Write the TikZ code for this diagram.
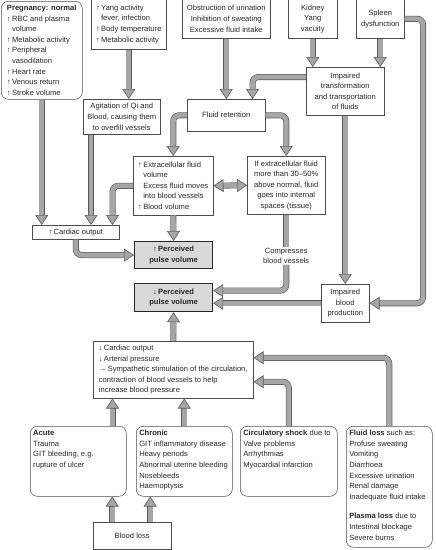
\documentclass[tikz,border=0pt]{standalone}
\usepackage{fontspec}
\setmainfont{Liberation Sans}
\usetikzlibrary{arrows.meta,positioning,calc}

\newcommand{\incr}{↑\,}
\newcommand{\decr}{↓\,}
\newcommand{\toward}{→\,}

\begin{document}
\begin{tikzpicture}[x=1pt,y=-1pt,inner xsep=4pt,inner ysep=3pt,
    font=\fontsize{7.6}{10.6}\selectfont,
    box/.style={draw=black!70,line width=.5pt,text=black!85,anchor=north west},
    rbox/.style={box,rounded corners=7pt},
    pulse/.style={box,draw=black!85,line width=1.2pt,fill=black!15,font=\fontsize{7.6}{10.6}\selectfont\bfseries},
    bigtip/.tip={Triangle[length=10pt,width=13pt,line width'=.6pt,fill=black!35]},
    fat/.style={draw=black!65,line width=.6pt,double=black!35,double distance=4.8pt,rounded corners=6pt},
    fatarrow/.style={fat,-bigtip}]

  \useasboundingbox (0,0) rectangle (436,550);

  % Causes at the top
  \node[rbox,minimum width=81pt,minimum height=98pt,align=left] (preg) at (1,1)
    {\textbf{Pregnancy: normal}\\\incr RBC and plasma\\\phantom{\incr}volume\\\incr Metabolic activity\\\incr Peripheral\\\phantom{\incr}vasodilation\\\incr Heart rate\\\incr Venous return\\\incr Stroke volume};
  \node[box,minimum width=75pt,minimum height=50pt,align=left] (yang) at (91,-1)
    {\incr Yang activity\\\phantom{\incr}fever, infection\\\incr Body temperature\\\incr Metabolic activity};
  \node[box,minimum width=88pt,minimum height=39pt,align=center] (obst) at (182,-1)
    {Obstruction of urination\\Inhibition of sweating\\Excessive fluid intake};
  \node[box,minimum width=49pt,minimum height=39pt,align=center] (kidney) at (288,-1)
    {Kidney\\Yang\\vacuity};
  \node[box,minimum width=48pt,minimum height=39pt,align=center] (spleen) at (356,-1)
    {Spleen\\dysfunction};

  % Middle part
  \node[box,minimum width=78pt,minimum height=48pt,align=center] (imptr) at (306,67)
    {Impaired\\transformation\\and transportation\\of fluids};
  \node[box,minimum width=77pt,minimum height=35pt,align=center] (agit) at (83,99)
    {Agitation of Qi and\\Blood, causing them\\to overfill vessels};
  \node[box,minimum width=78pt,minimum height=32pt] (fret) at (187,99) {Fluid retention};
  \node[box,minimum width=80pt,minimum height=59pt,align=left] (extra) at (133,156)
    {\incr Extracellular fluid\\\phantom{\incr}volume\\\phantom{\incr}Excess fluid moves\\\phantom{\incr}into blood vessels\\\incr Blood volume};
  \node[box,minimum width=78pt,minimum height=58pt,align=center] (ifext) at (247,156)
    {If extracellular fluid\\more than 30--50\%\\above normal, fluid\\goes into internal\\spaces (tissue)};
  \node[box,minimum width=87pt,minimum height=14pt,inner ysep=1pt] (cardT) at (32,225) {\incr Cardiac output};
  \node[pulse,minimum width=78pt,minimum height=27pt,align=center] (pulseT) at (134,241)
    {\incr Perceived\\pulse volume};
  \node[below=32pt of ifext,inner sep=1pt,align=center,text=black!85] (comp) {Compresses\\blood vessels};
  \node[pulse,minimum width=78pt,minimum height=28pt,align=center] (pulseB) at (134,283)
    {\decr Perceived\\pulse volume};
  \node[box,minimum width=48pt,minimum height=38pt,align=center] (blprod) at (321,284)
    {Impaired\\blood\\production};
  \node[box,minimum width=160pt,minimum height=57pt,align=left] (cardB) at (93,341)
    {\decr Cardiac output\\\decr Arterial pressure\\\toward Sympathetic stimulation of the circulation,\\contraction of blood vessels to help\\increase blood pressure};

  % Causes at the bottom
  \node[rbox,minimum width=96pt,minimum height=70pt,inner xsep=3pt] (acute) at (30,426)
    {\parbox[t][62pt][t]{90pt}{\raggedright\textbf{Acute}\\Trauma\\GIT bleeding, e.g.\\rupture of ulcer}};
  \node[rbox,minimum width=96pt,minimum height=70pt,inner xsep=3pt] (chronic) at (136,426)
    {\parbox[t][62pt][t]{90pt}{\raggedright\textbf{Chronic}\\GIT inflammatory disease\\Heavy periods\\Abnormal uterine bleeding\\Nosebleeds\\Haemoptysis}};
  \node[rbox,minimum width=97pt,minimum height=70pt,inner xsep=3pt] (shock) at (240,426)
    {\parbox[t][62pt][t]{91pt}{\raggedright\textbf{Circulatory shock} due to\\Valve problems\\Arrhythmias\\Myocardial infarction}};
  \node[rbox,minimum width=86pt,minimum height=121pt,inner xsep=3pt] (floss) at (346,426)
    {\parbox[t][113pt][t]{80pt}{\raggedright\textbf{Fluid loss} such as:\\Profuse sweating\\Vomiting\\Diarrhoea\\Excessive urination\\Renal damage\\Inadequate fluid intake\\[9pt]\textbf{Plasma loss} due to\\Intestinal blockage\\Severe burns}};
  \node[box,minimum width=78pt,minimum height=27pt] (bloss) at (93,522) {Blood loss};

  % Bends and ends of the arrows
  \coordinate (agitout) at ([xshift=8pt]agit.south west);
  \coordinate (imptrout) at ([yshift=-10pt]imptr.north west);
  \coordinate (fretin) at ([xshift=-13pt]fret.north east);
  \coordinate (cardTin) at ([xshift=-7pt]cardT.north east);
  \coordinate (rgt) at (423,0);
  \coordinate (pulseBhi) at ([yshift=7pt]pulseB.east);
  \coordinate (acuteout) at ([xshift=-14pt]acute.north east);
  \coordinate (shockin) at ([yshift=-12pt]cardB.east);
  \coordinate (flossin) at ([yshift=12pt]cardB.east);
  \coordinate (blossl) at ([xshift=-20pt]bloss.north);
  \coordinate (blossr) at ([xshift=18pt]bloss.north);

  % Arrows
  \draw[fatarrow] (preg.south) -- (preg.south |- cardT.north);
  \draw[fatarrow] (yang.south) -- (yang.south |- agit.north);
  \draw[fatarrow] (agitout) -- (agitout |- cardT.north);
  \draw[fatarrow] (obst.south) -- (obst.south |- fret.north);
  \draw[fatarrow] (kidney.south) -- (kidney.south |- imptr.north);
  \draw[fatarrow] (spleen.south) -- (spleen.south |- imptr.north);
  \draw[fatarrow] (imptrout) -| (fretin);
  \draw[fatarrow] (spleen.east) -| (rgt |- blprod.east) -- (blprod.east);
  \draw[fatarrow] (imptr.south) -- (imptr.south |- blprod.north);
  \draw[fatarrow] (fret.west) -| (extra.north);
  \draw[fatarrow] (fret.east) -| (ifext.north);
  \draw[fat,bigtip-bigtip] (extra.east) -- (ifext.west);
  \draw[fatarrow] (extra.west) -| (cardTin);
  \draw[fatarrow] (extra.south) -- (pulseT.north);
  \draw[fatarrow] (cardT.south) |- (pulseT.west);
  \draw[fat] (ifext.south) -- (comp.north);
  \draw[fatarrow] (comp.south) |- (pulseBhi);
  \draw[fatarrow] (blprod.west) -- (blprod.west -| pulseB.east);
  \draw[fatarrow] (cardB.north) -- (pulseB.south);
  \draw[fatarrow] (acuteout) -- (acuteout |- cardB.south);
  \draw[fatarrow] (chronic.north) -- (chronic.north |- cardB.south);
  \draw[fatarrow] (shock.north) |- (shockin);
  \draw[fatarrow] (floss.north) |- (flossin);
  \draw[fatarrow] (blossl) -- (blossl |- acute.south);
  \draw[fatarrow] (blossr) -- (blossr |- chronic.south);

\end{tikzpicture}
\end{document}
